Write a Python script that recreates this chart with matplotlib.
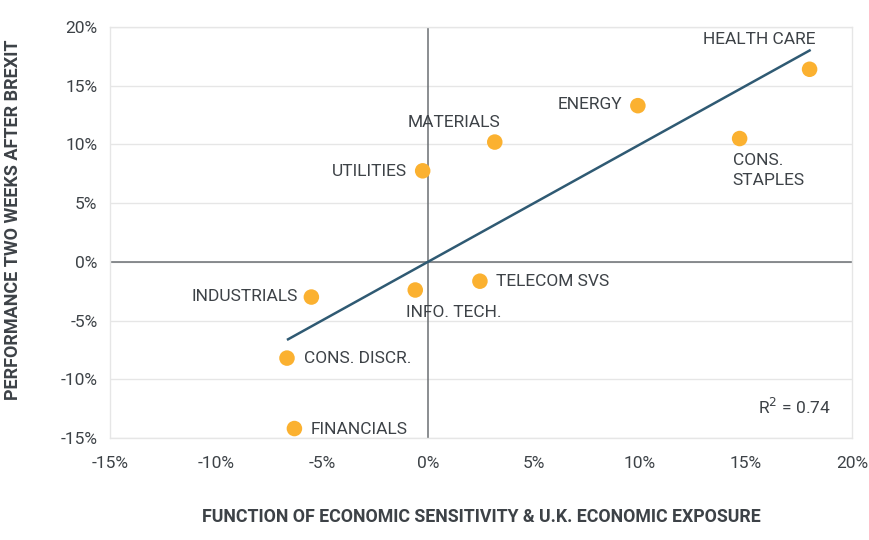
import matplotlib.pyplot as plt
from matplotlib.ticker import FuncFormatter

plt.rcParams['font.family'] = ['Roboto', 'DejaVu Sans']

# datos de los sectores (x, y en %)
sectors = ['HEALTH CARE', 'CONS.\nSTAPLES', 'ENERGY', 'MATERIALS', 'UTILITIES',
           'TELECOM SVS', 'INFO. TECH.', 'INDUSTRIALS', 'CONS. DISCR.', 'FINANCIALS']
sens = [18.0, 14.7, 9.9, 3.15, -0.25, 2.45, -0.6, -5.5, -6.65, -6.3]
perf = [16.4, 10.5, 13.3, 10.2, 7.75, -1.65, -2.4, -3.0, -8.2, -14.2]

# linea de tendencia
trend_x = [-6.6, 18.0]
trend_y = [-6.6, 18.0]

xticks = [-15, -10, -5, 0, 5, 10, 15, 20]
yticks = [-15, -10, -5, 0, 5, 10, 15, 20]

# offsets de etiquetas (puntos) y alineacion
label_pos = [(4.5, 21.5, 'right', 'center'),
             (-5, -23, 'left', 'center'),
             (-11.5, 0.5, 'right', 'center'),
             (-29, 14, 'center', 'center'),
             (-11.5, -0.5, 'right', 'center'),
             (11.5, -0.5, 'left', 'center'),
             (-7, -16, 'left', 'center'),
             (-10, 0.5, 'right', 'center'),
             (12.5, -0.5, 'left', 'center'),
             (12, -0.5, 'left', 'center')]

text_col = '#3d4247'

fig = plt.figure(figsize=(8.7, 5.4), dpi=100)
ax = fig.add_axes([0.1264, 0.189, 0.8529, 0.761])

ax.set_xlim(-15, 20)
ax.set_ylim(-15, 20)
ax.set_xticks(xticks)
ax.set_yticks(yticks)
fmt = FuncFormatter(lambda v, p: f'{v:.0f}%')
ax.xaxis.set_major_formatter(fmt)
ax.yaxis.set_major_formatter(fmt)

ax.grid(True, axis='y', color='#e6e6e6', linewidth=1)
ax.set_axisbelow(True)
for s in ax.spines.values():
    s.set_color('#e6e6e6')
    s.set_linewidth(1)
ax.tick_params(length=0, labelsize=12.5, colors=text_col)
ax.tick_params(axis='x', pad=13)
ax.tick_params(axis='y', pad=9)

ax.axhline(0, color='#6b6f73', linewidth=1.1, zorder=1)
ax.axvline(0, color='#6b6f73', linewidth=1.1, zorder=1)

ax.plot(trend_x, trend_y, color='#2f5a73', linewidth=1.8, zorder=2)
ax.scatter(sens, perf, s=125, color='#fbb130', edgecolors='none', zorder=3)

for name, x, y, (dx, dy, ha, va) in zip(sectors, sens, perf, label_pos):
    ax.annotate(name, (x, y), xytext=(dx, dy), textcoords='offset points',
                ha=ha, va=va, fontsize=12.5, color=text_col, linespacing=1.35)

ax.text(0.972, 0.075, 'R$^2$ = 0.74', transform=ax.transAxes, ha='right', va='center',
        fontsize=12.5, color=text_col)

ax.set_xlabel('FUNCTION OF ECONOMIC SENSITIVITY & U.K. ECONOMIC EXPOSURE',
              fontsize=12.8, fontweight='bold', color=text_col, labelpad=27)
ax.set_ylabel('PERFORMANCE TWO WEEKS AFTER BREXIT',
              fontsize=13, fontweight='bold', color=text_col)
ax.yaxis.set_label_coords(-0.118, 0.53)

fig.savefig('out.png', dpi=100)
